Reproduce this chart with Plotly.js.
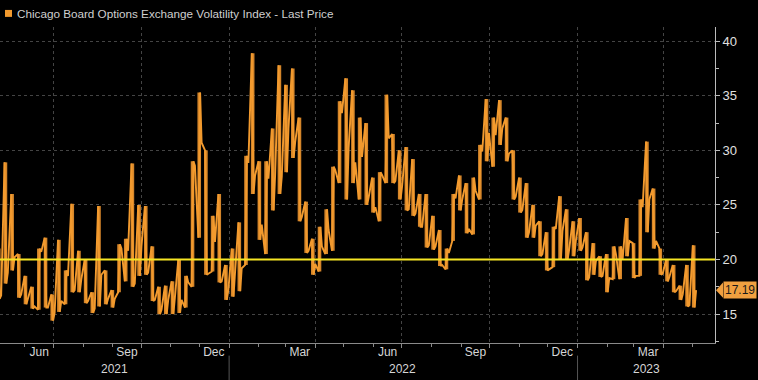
<!DOCTYPE html>
<html>
<head>
<meta charset="utf-8">
<script src="https://cdn.plot.ly/plotly-3.0.1.min.js"></script>
<style>
html,body{margin:0;padding:0;background:#000;}
#chart{width:758px;height:380px;}
</style>
</head>
<body>
<div id="chart"></div>
<script>
// Weekly VIX values (week starting Monday)
const weekStarts = [
 '2021-05-03','2021-05-10','2021-05-17','2021-05-24','2021-05-31','2021-06-07','2021-06-14','2021-06-21','2021-06-28',
 '2021-07-05','2021-07-12','2021-07-19','2021-07-26','2021-08-02','2021-08-09','2021-08-16','2021-08-23','2021-08-30',
 '2021-09-06','2021-09-13','2021-09-20','2021-09-27','2021-10-04','2021-10-11','2021-10-18','2021-10-25','2021-11-01',
 '2021-11-08','2021-11-15','2021-11-22','2021-11-29','2021-12-06','2021-12-13','2021-12-20','2021-12-27',
 '2022-01-03','2022-01-10','2022-01-17','2022-01-24','2022-01-31','2022-02-07','2022-02-14','2022-02-21','2022-02-28',
 '2022-03-07','2022-03-14','2022-03-21','2022-03-28','2022-04-04','2022-04-11','2022-04-18','2022-04-25','2022-05-02',
 '2022-05-09','2022-05-16','2022-05-23','2022-05-30','2022-06-06','2022-06-13','2022-06-20','2022-06-27','2022-07-04',
 '2022-07-11','2022-07-18','2022-07-25','2022-08-01','2022-08-08','2022-08-15','2022-08-22','2022-08-29','2022-09-05',
 '2022-09-12','2022-09-19','2022-09-26','2022-10-03','2022-10-10','2022-10-17','2022-10-24','2022-10-31','2022-11-07',
 '2022-11-14','2022-11-21','2022-11-28','2022-12-05','2022-12-12','2022-12-19','2022-12-26',
 '2023-01-02','2023-01-09','2023-01-16','2023-01-23','2023-01-30','2023-02-06','2023-02-13','2023-02-20','2023-02-27',
 '2023-03-06','2023-03-13','2023-03-20','2023-03-27','2023-04-03','2023-04-10','2023-04-17','2023-04-24','2023-05-01'
];
const weekHigh = [
 21.0,28.9,26.0,20.5,18.5,17.5,21.0,22.0,16.8,
 21.8,19.0,25.1,20.8,20.0,17.0,24.9,19.0,17.2,
 21.4,21.9,28.8,25.0,24.9,21.2,17.5,17.6,18.0,
 20.0,18.5,29.0,35.3,30.0,24.0,26.0,19.5,
 21.0,23.4,29.5,38.9,29.0,29.0,32.0,37.8,36.0,
 37.5,33.0,25.3,21.9,23.0,24.6,28.5,34.5,36.6,
 35.5,33.0,32.5,27.5,28.0,35.1,31.5,30.0,30.3,
 29.2,26.0,26.0,24.0,22.7,21.0,26.0,27.7,27.0,
 27.5,30.5,34.7,33.0,34.6,33.0,30.0,27.5,27.0,
 25.0,23.5,22.5,23.0,25.8,24.6,23.5,
 23.8,22.5,21.5,20.3,20.5,21.2,21.2,23.8,21.5,
 25.5,30.8,26.5,21.0,20.0,19.5,17.6,19.5,21.3
];
const weekLow = [
 16.4,17.8,19.0,16.5,15.9,15.5,15.4,15.6,14.4,
 15.2,15.9,17.0,17.0,16.0,15.1,15.7,15.9,15.6,
 17.0,18.0,17.5,18.5,18.6,16.2,15.0,15.0,15.0,
 15.1,15.6,17.5,22.0,18.6,18.9,17.9,16.3,
 16.6,17.1,19.5,26.0,21.8,20.5,24.5,26.0,28.0,
 29.3,23.5,20.6,18.6,18.9,20.5,20.8,27.0,25.5,
 27.0,25.5,25.0,24.3,23.5,27.0,27.0,25.5,24.5,
 24.0,23.0,21.1,20.9,19.4,19.1,21.7,24.5,22.4,
 22.3,25.5,29.0,28.5,30.5,29.0,25.5,24.3,22.0,
 22.0,20.3,19.0,19.3,20.0,20.0,20.3,
 20.8,18.1,18.6,18.4,17.0,18.2,18.2,20.3,18.3,
 18.5,22.5,21.0,18.6,18.0,17.0,16.3,15.7,15.6
];
const weekClose = [
 16.7,18.8,20.2,16.8,16.4,15.7,20.7,15.6,15.1,
 16.2,18.5,17.2,18.2,16.2,15.5,18.6,16.4,16.4,
 21.0,20.8,17.8,21.2,18.8,16.3,15.4,16.3,16.5,
 16.3,17.9,28.6,30.7,18.7,21.6,18.0,17.2,
 18.8,19.2,28.85,27.7,23.2,27.4,27.75,27.6,32.0,
 30.75,23.9,20.8,19.6,21.2,22.7,28.2,33.4,30.2,
 28.9,29.4,25.7,24.8,27.75,31.1,27.2,26.7,24.6,
 24.2,23.0,21.3,21.2,19.5,20.6,25.6,25.5,22.8,
 26.3,29.9,31.6,31.4,32.0,29.7,25.75,24.55,22.5,
 23.1,20.5,19.1,22.8,22.6,20.9,21.7,
 21.1,18.35,19.85,18.5,18.3,20.5,20.0,21.7,18.5,
 24.8,25.5,21.7,18.7,18.4,17.1,16.8,15.8,17.19
];
const lastPrice = 17.19;
const threshold = 20;
const monthLabelDates = ['2021-06-16','2021-09-16','2021-12-16','2022-03-16','2022-06-16','2022-09-16','2022-12-16','2023-03-16'];
const monthLabels = ['Jun','Sep','Dec','Mar','Jun','Sep','Dec','Mar'];
const yearLabels = ['2021','2022','2023'];
const yearStarts = ['2022-01-01','2023-01-01'];
const xRange = ['2021-05-06','2023-05-25'];
const yRange = [12.35, 41.3];
const seriesName = 'Chicago Board Options Exchange Volatility Index - Last Price';

const ORANGE = '#f29a2e';
const DAY = 86400000;
// plotly-friendly date string (no timezone suffix)
const dstr = t => new Date(t).toISOString().replace('T', ' ').slice(0, 19);
const tOf = d => new Date(d + 'T00:00:00Z').getTime();

// Weekly high-low range strokes (one vertical segment per week) ...
const rx = [], ry = [];
weekStarts.forEach((d, i) => {
  const xm = dstr(tOf(d) + 1.7*DAY);
  rx.push(xm, xm, null);
  ry.push(weekLow[i], weekHigh[i], null);
});
const rangeTrace = {
  type: 'scatter', mode: 'lines', x: rx, y: ry, connectgaps: false,
  line: {color: '#d4852a', width: 3.6},
  hoverinfo: 'skip', showlegend: false
};

// ... and the path through each week's extremes (ordered by where the week closed) and close.
const px = [], py = [];
weekStarts.forEach((d, i) => {
  const t = tOf(d);
  const h = weekHigh[i], l = weekLow[i], c = weekClose[i];
  const upFinish = (h - c) < (c - l);
  px.push(dstr(t + 0.8*DAY), dstr(t + 2.6*DAY), dstr(t + 4.2*DAY));
  py.push(upFinish ? l : h, upFinish ? h : l, c);
});
const pathTrace = {
  type: 'scatter', mode: 'lines', x: px, y: py,
  line: {color: ORANGE, width: 1.9},
  hoverinfo: 'skip', showlegend: false
};

// year label positions: center of visible part of each year
const t0 = new Date(xRange[0]).getTime(), t1 = new Date(xRange[1]).getTime();
const bounds = [t0, ...yearStarts.map(d => new Date(d).getTime()), t1];
const yearAnn = yearLabels.map((lab,i) => ({
  text: lab, xref: 'x', yref: 'paper',
  x: dstr((bounds[i]+bounds[i+1])/2).slice(0,10),
  y: -0.083, xanchor: 'center', yanchor: 'middle', showarrow: false,
  font: {family: 'Liberation Sans, Arial, sans-serif', size: 12, color: '#d6d6d6'}
}));

const plotW = 758 - 0 - 43;
const pxX = p => p / plotW;      // paper x from pixel offset
const tagHalf = 0.7;

const layout = {
  width: 758, height: 380,
  margin: {l: 0, r: 43, t: 27, b: 37},
  paper_bgcolor: '#000', plot_bgcolor: '#000',
  font: {family: 'Liberation Sans, Arial, sans-serif', color: '#d6d6d6'},
  xaxis: {
    type: 'date', range: xRange,
    tickmode: 'linear', tick0: '2021-01-01', dtick: 'M3',
    showgrid: true, griddash: 'dot', gridcolor: '#444', gridwidth: 1,
    showticklabels: false, ticks: 'outside', ticklen: 4, tickcolor: '#8a8a8a',
    showline: true, linecolor: '#8a8a8a', linewidth: 1,
    minor: {dtick: 'M1', tick0: '2021-01-01', ticks: 'outside', ticklen: 3, tickcolor: '#8a8a8a', showgrid: false},
    zeroline: false, fixedrange: true
  },
  xaxis2: {
    type: 'date', overlaying: 'x', matches: 'x', anchor: 'y', side: 'bottom',
    tickmode: 'array', tickvals: monthLabelDates, ticktext: monthLabels,
    ticks: '', showgrid: false, showline: false, zeroline: false,
    tickfont: {family: 'Liberation Sans, Arial, sans-serif', size: 12, color: '#d6d6d6'}
  },
  yaxis: {
    side: 'right', range: yRange,
    tickmode: 'linear', tick0: 0, dtick: 5,
    showgrid: true, griddash: 'dot', gridcolor: '#444', gridwidth: 1,
    ticks: 'outside', ticklen: 4, tickcolor: '#bbb',
    showline: true, linecolor: '#bbb', linewidth: 1,
    minor: {dtick: 2.5, ticks: 'outside', ticklen: 3, tickcolor: '#bbb', showgrid: false},
    tickfont: {family: 'Liberation Sans, Arial, sans-serif', size: 13, color: '#e0e0e0'},
    zeroline: false, fixedrange: true
  },
  shapes: [
    {type: 'line', xref: 'paper', x0: 0, x1: 1, yref: 'y', y0: threshold, y1: threshold,
     line: {color: '#f5e524', width: 2}},
    ...yearStarts.map(d => ({type: 'line', xref: 'x', x0: d, x1: d, yref: 'paper', y0: -0.04, y1: -0.125,
     line: {color: '#555', width: 1}})),
    {type: 'rect', xref: 'paper', yref: 'paper', x0: pxX(5), x1: pxX(12), y0: 1.032, y1: 1.054,
     fillcolor: ORANGE, line: {width: 0}},
    {type: 'path', xref: 'paper', yref: 'y',
     path: `M ${1+pxX(1)},${lastPrice} L ${1+pxX(8)},${lastPrice+tagHalf} L ${1+pxX(8)},${lastPrice-tagHalf} Z`,
     fillcolor: '#f0a040', line: {width: 0}}
  ],
  annotations: [
    {text: seriesName, xref: 'paper', yref: 'paper', x: pxX(15), y: 1.043,
     xanchor: 'left', yanchor: 'middle', showarrow: false,
     font: {family: 'Liberation Sans, Arial, sans-serif', size: 11.7, color: '#cfcfcf'}},
    {text: lastPrice.toFixed(2), xref: 'paper', yref: 'y', x: 1+pxX(8), y: lastPrice,
     xanchor: 'left', yanchor: 'middle', showarrow: false, bgcolor: '#f0a040', borderpad: 1,
     font: {family: 'Liberation Sans, Arial, sans-serif', size: 12, color: '#1a1a1a'}},
    ...yearAnn
  ]
};

Plotly.newPlot('chart', [rangeTrace, pathTrace, {type:'scatter', x:[], y:[], xaxis:'x2', showlegend:false}], layout, {displayModeBar: false, staticPlot: true});
</script>
</body>
</html>
